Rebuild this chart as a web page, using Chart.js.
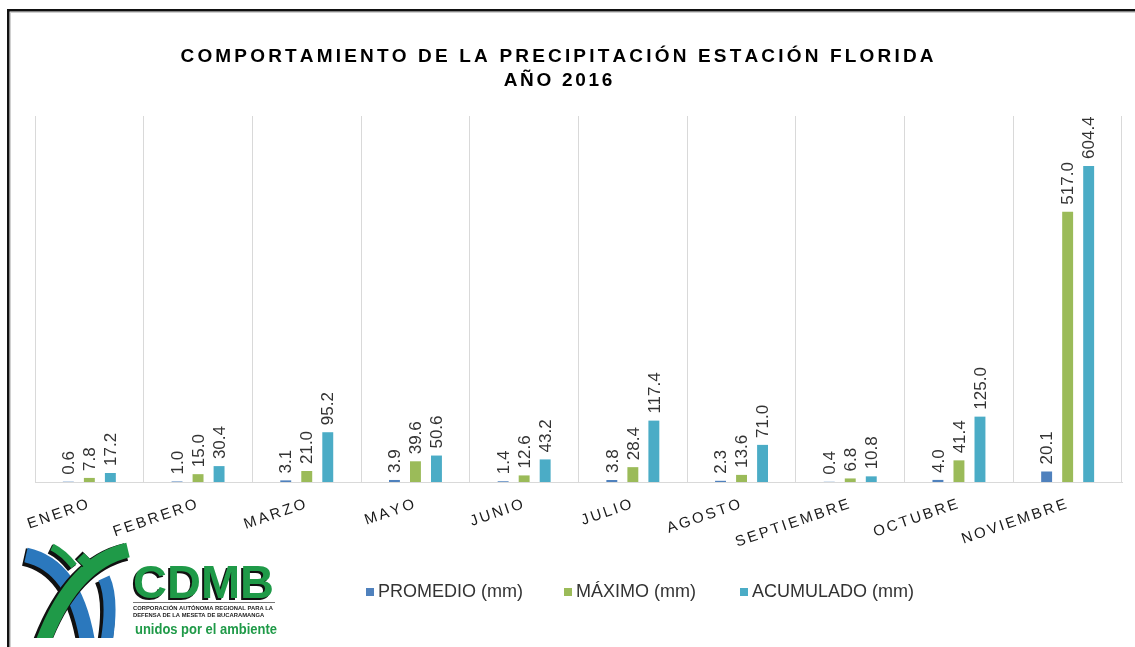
<!DOCTYPE html>
<html>
<head>
<meta charset="utf-8">
<script src="https://cdn.jsdelivr.net/npm/chart.js@4.4.1/dist/chart.umd.min.js"></script>
<style>
  html, body { margin: 0; padding: 0; background: #fff; overflow: hidden; }
  canvas { display: block; }
</style>
</head>
<body>
<canvas id="c" width="1135" height="647"></canvas>
<script>
// Monthly precipitation, Florida station, 2016
const categories = ['ENERO', 'FEBRERO', 'MARZO', 'MAYO', 'JUNIO', 'JULIO', 'AGOSTO', 'SEPTIEMBRE', 'OCTUBRE', 'NOVIEMBRE'];
const promedio  = [0.6, 1.0, 3.1, 3.9, 1.4, 3.8, 2.3, 0.4, 4.0, 20.1];
const maximo    = [7.8, 15.0, 21.0, 39.6, 12.6, 28.4, 13.6, 6.8, 41.4, 517.0];
const acumulado = [17.2, 30.4, 95.2, 50.6, 43.2, 117.4, 71.0, 10.8, 125.0, 604.4];
const seriesNames  = ['PROMEDIO (mm)', 'MÁXIMO (mm)', 'ACUMULADO (mm)'];
const seriesColors = ['#4F81BD', '#9BBB59', '#4BACC6'];
const titleLines = ['COMPORTAMIENTO DE LA PRECIPITACIÓN ESTACIÓN FLORIDA', 'AÑO 2016'];
const yMin = 0, yMax = 700;

const FONT = "'Liberation Sans', Arial, sans-serif";

function spacedWidth(ctx, text, sp) {
  const chars = [...text];
  let w = 0;
  for (const ch of chars) w += ctx.measureText(ch).width;
  return w + sp * (chars.length - 1);
}
function drawSpaced(ctx, text, x, y, sp, align) {
  const w = spacedWidth(ctx, text, sp);
  let cx = align === 'center' ? x - w / 2 : (align === 'right' ? x - w : x);
  ctx.textAlign = 'left';
  for (const ch of [...text]) {
    ctx.fillText(ch, cx, y);
    cx += ctx.measureText(ch).width + sp;
  }
}

// White page with the dark frame on the top and left edges
const framePlugin = {
  id: 'frame',
  beforeDraw(chart) {
    const ctx = chart.ctx;
    ctx.save();
    ctx.fillStyle = '#fff';
    ctx.fillRect(0, 0, chart.width, chart.height);
    ctx.fillStyle = '#d0d0d0';
    ctx.fillRect(10, 12, 1, chart.height);
    ctx.fillRect(10, 12, chart.width, 1);
    ctx.fillStyle = '#111';
    ctx.fillRect(7, 9, chart.width, 2.5);
    ctx.fillRect(7, 9, 2.5, chart.height);
    ctx.restore();
  }
};

// Spaced bold two-line heading
const headingPlugin = {
  id: 'heading',
  afterDraw(chart) {
    const ctx = chart.ctx;
    ctx.save();
    ctx.fillStyle = '#000';
    ctx.font = 'bold 19px ' + FONT;
    ctx.textBaseline = 'middle';
    const raw = spacedWidth(ctx, titleLines[0], 0);
    const n = [...titleLines[0]].length;
    const sp = (753 - raw) / (n - 1);
    drawSpaced(ctx, titleLines[0], 557, 57, sp, 'center');
    drawSpaced(ctx, titleLines[1], 558, 81, sp * 0.85, 'center');
    ctx.restore();
  }
};

// Slanted, letter-spaced month names under each group
const monthLabelPlugin = {
  id: 'monthLabels',
  afterDraw(chart) {
    const ctx = chart.ctx;
    const xs = chart.scales.x;
    const base = chart.chartArea.bottom;
    ctx.save();
    ctx.fillStyle = '#1a1a1a';
    ctx.font = '15px ' + FONT;
    ctx.textBaseline = 'top';
    categories.forEach((name, i) => {
      const x = xs.getPixelForValue(i);
      ctx.save();
      ctx.translate(x - 4, base + 15);
      ctx.rotate(-19 * Math.PI / 180);
      drawSpaced(ctx, name, 0, 0, 2.5, 'right');
      ctx.restore();
    });
    ctx.restore();
  }
};

// Vertical value labels above each bar
const valueLabelPlugin = {
  id: 'valueLabels',
  afterDatasetsDraw(chart) {
    const ctx = chart.ctx;
    ctx.save();
    ctx.fillStyle = '#333';
    ctx.font = '17px ' + FONT;
    ctx.textAlign = 'left';
    ctx.textBaseline = 'middle';
    chart.data.datasets.forEach((ds, di) => {
      const meta = chart.getDatasetMeta(di);
      meta.data.forEach((bar, i) => {
        ctx.save();
        ctx.translate(bar.x + 1, bar.y - 7);
        ctx.rotate(-Math.PI / 2);
        ctx.fillText(ds.data[i].toFixed(1), 0, 0);
        ctx.restore();
      });
    });
    ctx.restore();
  }
};

// Legend row below the month names
const legendPlugin = {
  id: 'legendRow',
  afterDraw(chart) {
    const ctx = chart.ctx;
    const items = [
      { sq: 366, tx: 378 },
      { sq: 564, tx: 576 },
      { sq: 740, tx: 752 }
    ];
    ctx.save();
    ctx.font = '18px ' + FONT;
    ctx.textBaseline = 'middle';
    ctx.textAlign = 'left';
    items.forEach((it, i) => {
      ctx.fillStyle = seriesColors[i];
      ctx.fillRect(it.sq, 588, 8, 8);
      ctx.fillStyle = '#333';
      ctx.fillText(seriesNames[i], it.tx, 592);
    });
    ctx.restore();
  }
};

// Institutional mark in the lower-left corner
const emblemPlugin = {
  id: 'emblem',
  afterDraw(chart) {
    const ctx = chart.ctx;
    const green = '#1f9a48', blue = '#2b78bd';
    ctx.save();
    ctx.beginPath();
    ctx.rect(12, 540, 130, 98);
    ctx.clip();
    ctx.lineCap = 'butt';
    function band(x0, y0, cx, cy, x1, y1, w, color) {
      ctx.lineWidth = w + 3;
      ctx.strokeStyle = '#111';
      ctx.beginPath(); ctx.moveTo(x0 - 2, y0 + 2); ctx.quadraticCurveTo(cx - 2, cy + 2, x1 - 2, y1 + 2); ctx.stroke();
      ctx.lineWidth = w;
      ctx.strokeStyle = color;
      ctx.beginPath(); ctx.moveTo(x0, y0); ctx.quadraticCurveTo(cx, cy, x1, y1); ctx.stroke();
    }
    // right arch
    band(104, 578, 114, 600, 106, 645, 12, blue);
    // crossing sweeps
    band(26, 555, 76, 566, 88, 645, 15, blue);
    band(128, 550, 72, 563, 42, 645, 15, green);
    // inner slim stripe
    band(52, 547, 64, 553, 74, 566, 7, green);
    // small diamond
    ctx.save();
    ctx.translate(84, 560);
    ctx.rotate(Math.PI / 4);
    ctx.fillStyle = '#111';
    ctx.fillRect(-7, -5, 11, 11);
    ctx.fillStyle = green;
    ctx.fillRect(-5, -5, 10, 10);
    ctx.restore();
    ctx.restore();

    // wordmark
    ctx.save();
    ctx.font = 'bold 47px ' + FONT;
    ctx.textBaseline = 'alphabetic';
    ctx.textAlign = 'left';
    ctx.fillStyle = '#111';
    ctx.fillText('CDMB', 131, 600);
    ctx.fillStyle = green;
    ctx.fillText('CDMB', 133, 598);
    ctx.fillStyle = '#777';
    ctx.fillRect(133, 602, 142, 1);
    ctx.fillStyle = '#222';
    ctx.font = 'bold 6px ' + FONT;
    const l1 = 'CORPORACIÓN AUTÓNOMA REGIONAL PARA LA';
    const l2 = 'DEFENSA DE LA MESETA DE BUCARAMANGA';
    const k = 140 / ctx.measureText(l1).width;
    ctx.save();
    ctx.translate(133, 610);
    ctx.scale(k, 1);
    ctx.fillText(l1, 0, 0);
    ctx.restore();
    ctx.save();
    ctx.translate(133, 617);
    ctx.scale(k, 1);
    ctx.fillText(l2, 0, 0);
    ctx.restore();
    ctx.fillStyle = green;
    ctx.font = 'bold 15px ' + FONT;
    const tag = 'unidos por el ambiente';
    ctx.save();
    ctx.translate(135, 634);
    ctx.scale(142 / ctx.measureText(tag).width, 1);
    ctx.fillText(tag, 0, 0);
    ctx.restore();
    ctx.restore();
  }
};

new Chart(document.getElementById('c'), {
  type: 'bar',
  data: {
    labels: categories,
    datasets: [
      { label: seriesNames[0], data: promedio,  backgroundColor: seriesColors[0] },
      { label: seriesNames[1], data: maximo,    backgroundColor: seriesColors[1] },
      { label: seriesNames[2], data: acumulado, backgroundColor: seriesColors[2] }
    ]
  },
  options: {
    responsive: false,
    animation: false,
    devicePixelRatio: 1,
    categoryPercentage: 0.58,
    barPercentage: 0.52,
    layout: { padding: { left: 35, right: 13, top: 116, bottom: 165 } },
    plugins: {
      legend: { display: false },
      title: { display: false },
      tooltip: { enabled: false }
    },
    scales: {
      x: {
        display: true,
        grid: { display: true, offset: true, color: '#d9d9d9', lineWidth: 1, drawTicks: false },
        border: { display: true, color: '#d9d9d9', width: 1 },
        ticks: { display: false }
      },
      y: {
        display: false,
        min: yMin,
        max: yMax
      }
    }
  },
  plugins: [framePlugin, headingPlugin, monthLabelPlugin, valueLabelPlugin, legendPlugin, emblemPlugin]
});
</script>
</body>
</html>
